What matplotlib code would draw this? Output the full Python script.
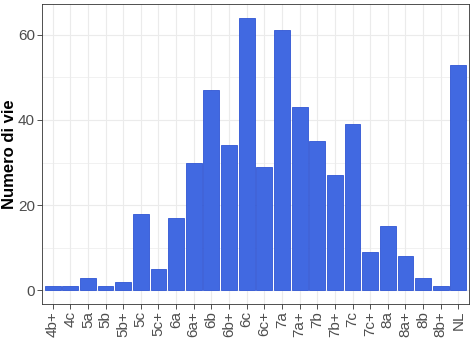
import numpy as np
import matplotlib.pyplot as plt
from matplotlib.ticker import MultipleLocator

grades = ['4b+', '4c', '5a', '5b', '5b+', '5c', '5c+', '6a', '6a+', '6b', '6b+',
          '6c', '6c+', '7a', '7a+', '7b', '7b+', '7c', '7c+', '8a', '8a+', '8b',
          '8b+', 'NL']
counts = [1, 1, 3, 1, 2, 18, 5, 17, 30, 47, 34, 64, 29, 61, 43, 35, 27, 39,
          9, 15, 8, 3, 1, 53]

plt.rcParams['font.family'] = ['Liberation Sans', 'DejaVu Sans']

fig = plt.figure(figsize=(4.73, 3.55), dpi=100)
ax = fig.add_axes([0.0888, 0.1437, 0.9027, 0.845])

x = np.arange(1, len(grades) + 1)
ax.bar(x, counts, width=0.9, color='#4169E1', edgecolor='#2f55d4',
       linewidth=0.6, zorder=3)

# ggplot-like expansion
ymax = max(counts)
ax.set_ylim(-0.05 * ymax, ymax * 1.05)
ax.set_xlim(0.4, len(grades) + 0.6)

ax.set_xticks(x)
ax.set_xticklabels(grades, rotation=90, fontsize=11, color='#4d4d4d')
ax.yaxis.set_major_locator(MultipleLocator(20))
ax.yaxis.set_minor_locator(MultipleLocator(10))
ax.tick_params(axis='y', labelsize=11, labelcolor='#4d4d4d')
ax.tick_params(which='major', length=3.5, width=0.6, color='#333333', pad=1.5)
ax.tick_params(which='minor', length=0)

ax.grid(which='major', color='#ebebeb', linewidth=0.8, zorder=0)
ax.grid(which='minor', axis='y', color='#ebebeb', linewidth=0.5, zorder=0)
ax.set_axisbelow(True)

for s in ax.spines.values():
    s.set_color('#333333')
    s.set_linewidth(0.6)

fig.text(10 / 473, 1 - 154 / 355, 'Numero di vie', rotation=90, fontsize=12,
         fontweight='bold', ha='center', va='center')

fig.savefig('out.png', dpi=100)
